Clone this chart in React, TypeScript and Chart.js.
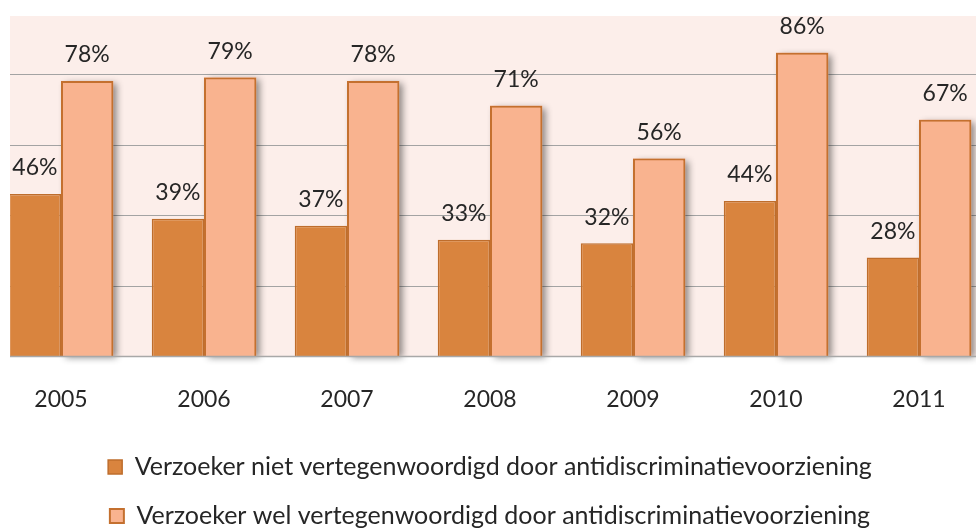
import { useEffect, useRef } from "react";
import { Chart, registerables } from "chart.js";

Chart.register(...registerables);

const categories = ["2005", "2006", "2007", "2008", "2009", "2010", "2011"];
const seriesNiet = [46, 39, 37, 33, 32, 44, 28];
const seriesWel = [78, 79, 78, 71, 56, 86, 67];
const seriesNames = [
  "Verzoeker niet vertegenwoordigd door antidiscriminatievoorziening",
  "Verzoeker wel vertegenwoordigd door antidiscriminatievoorziening",
];
const gridValues = [20, 40, 60, 80];

const CANVAS_W = 1040;
const CANVAS_H = 540;
const OFFSET_X = -30;
const BG_LEFT = 10 - OFFSET_X;
const BG_RIGHT = 976 - OFFSET_X;
const BG_TOP = 16;

const decorPlugin = {
  id: "decor",
  beforeDatasetsDraw(chart: any) {
    const { ctx, scales } = chart;
    const y = scales.y;
    const yBase = y.getPixelForValue(0);
    ctx.save();
    ctx.fillStyle = "#FCEEEA";
    ctx.fillRect(BG_LEFT, BG_TOP, BG_RIGHT - BG_LEFT, yBase - BG_TOP);
    ctx.strokeStyle = "#A3A3A3";
    ctx.lineWidth = 1;
    gridValues.forEach((v) => {
      const py = Math.round(y.getPixelForValue(v)) + 0.5;
      ctx.beginPath();
      ctx.moveTo(BG_LEFT, py);
      ctx.lineTo(BG_RIGHT, py);
      ctx.stroke();
    });
    ctx.restore();
    ctx.save();
    ctx.beginPath();
    ctx.rect(BG_LEFT, 0, BG_RIGHT - BG_LEFT, chart.height);
    ctx.clip();
  },
  beforeDatasetDraw(chart: any, args: any) {
    if (args.index !== 1) return;
    const { ctx } = chart;
    const meta = chart.getDatasetMeta(1);
    ctx.save();
    ctx.shadowColor = "rgba(0,0,0,0.45)";
    ctx.shadowBlur = 7;
    ctx.shadowOffsetX = 4;
    ctx.shadowOffsetY = 2;
    ctx.fillStyle = "#F9B38F";
    meta.data.forEach((el: any) => {
      const p = el.getProps(["x", "y", "base", "width"], true);
      const top = Math.min(p.y, p.base);
      ctx.fillRect(p.x - p.width / 2, top, p.width, Math.abs(p.base - p.y));
    });
    ctx.restore();
  },
  afterDatasetsDraw(chart: any) {
    const { ctx, scales } = chart;
    ctx.restore();
    const y = scales.y;
    const yBase = Math.round(y.getPixelForValue(0)) + 0.5;
    ctx.save();
    ctx.strokeStyle = "#A8A8A8";
    ctx.lineWidth = 1.5;
    ctx.beginPath();
    ctx.moveTo(BG_LEFT, yBase);
    ctx.lineTo(BG_RIGHT, yBase);
    ctx.stroke();

    ctx.fillStyle = "#262626";
    ctx.font = "23px Lato";
    ctx.textAlign = "center";
    ctx.textBaseline = "alphabetic";
    chart.data.datasets.forEach((ds: any, i: number) => {
      const meta = chart.getDatasetMeta(i);
      meta.data.forEach((el: any, j: number) => {
        const p = el.getProps(["x", "y"], true);
        ctx.fillText(`${ds.data[j]}%`, p.x, p.y - 18.5);
      });
    });
    ctx.restore();
  },
};

export default function App() {
  const ref = useRef<HTMLCanvasElement | null>(null);

  useEffect(() => {
    if (!ref.current) return;
    const chart = new Chart(ref.current, {
      type: "bar",
      data: {
        labels: categories,
        datasets: [
          {
            label: seriesNames[0],
            data: seriesNiet,
            backgroundColor: "#D9843E",
            borderColor: "#BE6D2C",
            borderWidth: 1.5,
            barPercentage: 1,
            categoryPercentage: 0.731,
          },
          {
            label: seriesNames[1],
            data: seriesWel,
            backgroundColor: "#F9B38F",
            borderColor: "#C4702F",
            borderWidth: 2,
            barPercentage: 1,
            categoryPercentage: 0.731,
          },
        ],
      },
      options: {
        responsive: false,
        animation: false,
        events: [],
        layout: {
          padding: { left: 19.5, right: 19.5, top: 3.3, bottom: 1.5 },
        },
        scales: {
          x: {
            grid: { display: false, drawTicks: false },
            border: { display: false },
            ticks: {
              font: { family: "Lato", size: 23 },
              color: "#262626",
              padding: 29.8,
              maxRotation: 0,
              autoSkip: false,
            },
            afterFit: (s: any) => {
              s.height = 74.2;
            },
          },
          y: {
            display: false,
            min: 0,
            max: 100,
          },
        },
        plugins: {
          legend: {
            position: "bottom",
            labels: {
              font: { family: "Lato", size: 25 },
              color: "#262626",
              boxWidth: 14,
              boxHeight: 14,
              padding: 24,
            },
          },
          tooltip: { enabled: false },
        },
      },
      plugins: [decorPlugin],
    });
    return () => chart.destroy();
  }, []);

  return (
    <div
      style={{
        position: "fixed",
        left: OFFSET_X,
        top: 0,
        width: CANVAS_W,
        height: CANVAS_H,
        background: "#ffffff",
      }}
    >
      <canvas ref={ref} width={CANVAS_W} height={CANVAS_H} />
    </div>
  );
}
